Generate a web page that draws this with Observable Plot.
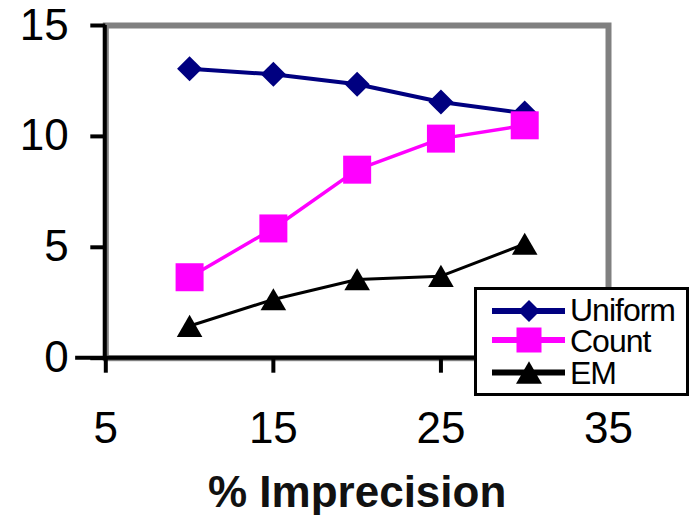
<!DOCTYPE html>
<html><head><meta charset="utf-8">
<script src="https://cdn.jsdelivr.net/npm/d3@7"></script>
<script src="https://cdn.jsdelivr.net/npm/@observablehq/plot@0.6"></script>
<style>
body{margin:0;background:#fff}
#chart{position:relative;width:690px;height:515px;font-family:"Liberation Sans",Arial,sans-serif}
#legend{position:absolute;left:474px;top:287px}
</style>
</head><body><div id="chart"></div>
<script>
const imprecision = [10, 15, 20, 25, 30];
const uniform = [13.05, 12.8, 12.35, 11.55, 11.05];
const count = [3.65, 5.85, 8.5, 9.9, 10.5];
const em = [1.45, 2.65, 3.55, 3.7, 5.15];
const seriesNames = ["Uniform", "Count", "EM"];
const seriesColors = ["#000080", "#ff00ff", "#000000"];
const seriesSymbols = ["diamond2", "square", "triangle"];
const xTicks = [5, 15, 25, 35];
const yTicks = [0, 5, 10, 15];
const xLabel = "% Imprecision";

const seriesValues = [uniform, count, em];
const seriesData = seriesNames.map((name, i) =>
  imprecision.map((x, j) => ({series: name, x, y: seriesValues[i][j]})));

const symR = [11.3, 15.8, 9.5];
const symDy = [0, 0, 3.5];
const lineW = [4, 3.5, 3];

const seriesMarks = seriesData.flatMap((d, i) => [
  Plot.line(d, {x: "x", y: "y", stroke: seriesColors[i], strokeWidth: lineW[i]}),
  Plot.dot(d, {x: "x", y: "y", symbol: () => seriesSymbols[i], r: symR[i], fill: seriesColors[i], stroke: "none", dy: symDy[i]})
]);

const chart = Plot.plot({
  width: 690,
  height: 515,
  marginLeft: 105.3,
  marginRight: 82,
  marginTop: 25,
  marginBottom: 157.3,
  style: {fontFamily: "'Liberation Sans', Arial, sans-serif", color: "black", background: "white", overflow: "visible"},
  x: {domain: [5, 35]},
  y: {domain: [0, 15]},
  marks: [
    Plot.frame({stroke: "#808080", strokeWidth: 6}),
    Plot.ruleX([5], {stroke: "black", strokeWidth: 4, dx: -1}),
    Plot.ruleY([0], {stroke: "black", strokeWidth: 4, dy: -0.5, x1: 3.2, x2: 35}),
    Plot.axisY(yTicks, {tickSize: 15, tickPadding: 22, strokeWidth: 4, fontSize: 44, label: null, fill: "black"}),
    Plot.axisX(xTicks, {tickSize: 15, tickPadding: 39, strokeWidth: 4, fontSize: 44, label: null, fill: "black"}),
    Plot.text([xLabel], {frameAnchor: "bottom", dy: 135, text: d => d, fontSize: 44, fontWeight: "bold", fill: "#111", lineAnchor: "middle"}),
    ...seriesMarks
  ]
});
const container = document.getElementById("chart");
container.appendChild(chart);

// legend
const symMap = {diamond2: d3.symbolDiamond2, square: d3.symbolSquare, triangle: d3.symbolTriangle};
const legSizes = [309, 625, 292];
const legDy = [0, 0, 3.75];
const rowY = [24, 53, 85.5];
const textY = [22, 53, 85];
const leg = d3.select(container).append("svg").attr("id", "legend").attr("width", 215).attr("height", 109);
leg.append("rect").attr("x", 1.5).attr("y", 1.5).attr("width", 212).attr("height", 106)
  .attr("fill", "white").attr("stroke", "black").attr("stroke-width", 3);
seriesNames.forEach((name, i) => {
  leg.append("line").attr("x1", 18).attr("x2", 91).attr("y1", rowY[i]).attr("y2", rowY[i])
    .attr("stroke", seriesColors[i]).attr("stroke-width", 6);
  leg.append("path").attr("d", d3.symbol(symMap[seriesSymbols[i]], legSizes[i])())
    .attr("transform", `translate(55,${rowY[i] + legDy[i]})`).attr("fill", seriesColors[i]);
  leg.append("text").attr("x", 96).attr("y", textY[i]).attr("dy", "0.36em")
    .attr("font-size", 32).attr("letter-spacing", -1)
    .attr("font-family", "'Liberation Sans', Arial, sans-serif").attr("fill", "black").text(name);
});
</script>
</body></html>
